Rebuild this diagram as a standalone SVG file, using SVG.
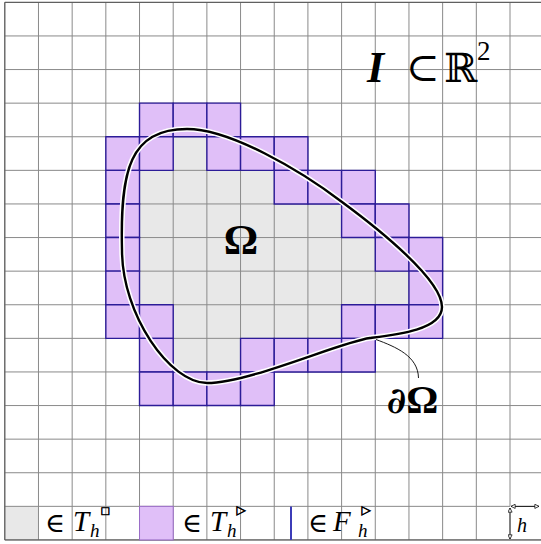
<svg xmlns="http://www.w3.org/2000/svg" width="541" height="544" viewBox="0 0 541 544">
<style>
.grid line{stroke:#8a8a8a;stroke-width:1;vector-effect:non-scaling-stroke}
.in{fill:#e8e8e8}
.bd{fill:#e0bff8;stroke:#2c1c98;stroke-width:1.4;vector-effect:non-scaling-stroke}
.ser{font-family:"Liberation Serif","DejaVu Serif",serif;fill:#000}
.sym{font-family:"DejaVu Serif","DejaVu Sans",serif;fill:#000}
.shp{font-family:"DejaVu Sans",sans-serif;fill:#000;stroke:#000;stroke-width:0.6}
</style>
<defs>
<marker id="ah" viewBox="0 0 6 6" refX="5.5" refY="3" markerWidth="5" markerHeight="5" orient="auto-start-reverse" markerUnits="userSpaceOnUse">
<path d="M0.5,0.5 L5.5,3 L0.5,5.5 Z" fill="#fff" stroke="#000" stroke-width="0.9"/>
</marker>
</defs>
<rect x="0" y="0" width="541" height="544" fill="#fff"/>
<g id="mesh" transform="translate(4.8,2.35) scale(33.68,33.6)">
<g id="interior">
<rect class="in" x="5" y="4" width="1" height="1"/>
<rect class="in" x="4" y="5" width="4" height="1"/>
<rect class="in" x="4" y="6" width="6" height="1"/>
<rect class="in" x="4" y="7" width="7" height="1"/>
<rect class="in" x="4" y="8" width="8" height="1"/>
<rect class="in" x="5" y="9" width="5" height="1"/>
<rect class="in" x="5" y="10" width="2" height="1"/>
<rect class="in" x="0" y="15" width="1" height="1"/>
</g>
<g class="grid">
<line x1="0" y1="0" x2="0" y2="16"/><line x1="1" y1="0" x2="1" y2="16"/><line x1="2" y1="0" x2="2" y2="16"/><line x1="3" y1="0" x2="3" y2="16"/><line x1="4" y1="0" x2="4" y2="16"/><line x1="5" y1="0" x2="5" y2="16"/><line x1="6" y1="0" x2="6" y2="16"/><line x1="7" y1="0" x2="7" y2="16"/><line x1="8" y1="0" x2="8" y2="16"/><line x1="9" y1="0" x2="9" y2="16"/><line x1="10" y1="0" x2="10" y2="16"/><line x1="11" y1="0" x2="11" y2="16"/><line x1="12" y1="0" x2="12" y2="16"/><line x1="13" y1="0" x2="13" y2="16"/><line x1="14" y1="0" x2="14" y2="16"/><line x1="15" y1="0" x2="15" y2="15"/>
<line x1="0" y1="0" x2="16" y2="0"/><line x1="0" y1="1" x2="16" y2="1"/><line x1="0" y1="2" x2="16" y2="2"/><line x1="0" y1="3" x2="16" y2="3"/><line x1="0" y1="4" x2="16" y2="4"/><line x1="0" y1="5" x2="16" y2="5"/><line x1="0" y1="6" x2="16" y2="6"/><line x1="0" y1="7" x2="16" y2="7"/><line x1="0" y1="8" x2="16" y2="8"/><line x1="0" y1="9" x2="16" y2="9"/><line x1="0" y1="10" x2="16" y2="10"/><line x1="0" y1="11" x2="16" y2="11"/><line x1="0" y1="12" x2="16" y2="12"/><line x1="0" y1="13" x2="16" y2="13"/><line x1="0" y1="14" x2="16" y2="14"/><line x1="0" y1="15" x2="15" y2="15"/><line x1="0" y1="16" x2="16" y2="16"/>
<line x1="0" y1="0" x2="0" y2="16" style="stroke:#555"/><line x1="0" y1="0" x2="16" y2="0" style="stroke:#555"/><line x1="0" y1="16" x2="16" y2="16" style="stroke:#555"/>
</g>
<g id="boundary">
<rect class="bd" x="4" y="3" width="1" height="1"/><rect class="bd" x="5" y="3" width="1" height="1"/><rect class="bd" x="6" y="3" width="1" height="1"/>
<rect class="bd" x="3" y="4" width="1" height="1"/><rect class="bd" x="4" y="4" width="1" height="1"/><rect class="bd" x="6" y="4" width="1" height="1"/><rect class="bd" x="7" y="4" width="1" height="1"/><rect class="bd" x="8" y="4" width="1" height="1"/>
<rect class="bd" x="3" y="5" width="1" height="1"/><rect class="bd" x="8" y="5" width="1" height="1"/><rect class="bd" x="9" y="5" width="1" height="1"/><rect class="bd" x="10" y="5" width="1" height="1"/>
<rect class="bd" x="3" y="6" width="1" height="1"/><rect class="bd" x="10" y="6" width="1" height="1"/><rect class="bd" x="11" y="6" width="1" height="1"/>
<rect class="bd" x="3" y="7" width="1" height="1"/><rect class="bd" x="11" y="7" width="1" height="1"/><rect class="bd" x="12" y="7" width="1" height="1"/>
<rect class="bd" x="3" y="8" width="1" height="1"/><rect class="bd" x="12" y="8" width="1" height="1"/>
<rect class="bd" x="3" y="9" width="1" height="1"/><rect class="bd" x="4" y="9" width="1" height="1"/><rect class="bd" x="10" y="9" width="1" height="1"/><rect class="bd" x="11" y="9" width="1" height="1"/><rect class="bd" x="12" y="9" width="1" height="1"/>
<rect class="bd" x="4" y="10" width="1" height="1"/><rect class="bd" x="7" y="10" width="1" height="1"/><rect class="bd" x="8" y="10" width="1" height="1"/><rect class="bd" x="9" y="10" width="1" height="1"/><rect class="bd" x="10" y="10" width="1" height="1"/>
<rect class="bd" x="4" y="11" width="1" height="1"/><rect class="bd" x="5" y="11" width="1" height="1"/><rect class="bd" x="6" y="11" width="1" height="1"/><rect class="bd" x="7" y="11" width="1" height="1"/>
</g>
</g>
<g id="domain-boundary">
<path id="curve-halo" d="M187,129 C230,129 300,170 342,202 C380,230 442,280 442,307 C442,330 395,335 370,338 C340,342 250,383 207,383 C170,383 122,315 122,250 C120,170 130,129 187,129 Z" fill="none" stroke="#fff" stroke-width="5.5"/>
<path d="M187,129 C230,129 300,170 342,202 C380,230 442,280 442,307 C442,330 395,335 370,338 C340,342 250,383 207,383 C170,383 122,315 122,250 C120,170 130,129 187,129 Z" fill="none" stroke="#000" stroke-width="2.4"/>
</g>
<g id="connectors">
<path d="M376,339.5 C396,347 418,356 418.5,378" fill="none" stroke="#000" stroke-width="0.9"/>
</g>
<g id="label-omega">
<text class="ser" x="241" y="253.5" font-size="43" font-weight="bold" text-anchor="middle">Ω</text>
</g>
<g id="label-domega">
<text x="387" y="413" font-size="40" font-weight="bold"><tspan font-family="DejaVu Serif, serif" font-style="italic" font-size="36">∂</tspan><tspan font-family="Liberation Serif, serif">Ω</tspan></text>
</g>
<g id="label-box">
<text class="ser" x="367" y="81.5" font-size="44" font-weight="bold" font-style="italic">I</text>
<text class="sym" x="406" y="81" font-size="40">⊂</text>
<text class="sym" x="444" y="81.5" font-size="40">ℝ</text>
<text class="ser" x="477" y="60" font-size="27">2</text>
</g>
<g id="legend">
<g id="legend-interior">
<text class="sym" x="45" y="531.5" font-size="27">∈</text>
<text class="ser" x="73" y="531" font-size="29" font-style="italic">T</text>
<text class="ser" x="90" y="537" font-size="19" font-style="italic">h</text>
<text class="shp" x="100.5" y="514" font-size="10">□</text>
</g>
<g id="legend-boundary">
<rect x="139.52" y="506.35" width="33.68" height="33.6" fill="#e0bff8" stroke="#9a6cc8" stroke-width="1"/>
<text class="sym" x="182" y="531.5" font-size="27">∈</text>
<text class="ser" x="210" y="531" font-size="29" font-style="italic">T</text>
<text class="ser" x="227" y="537" font-size="19" font-style="italic">h</text>
<text class="shp" x="236.5" y="514" font-size="12">▷</text>
</g>
<g id="legend-faces">
<line x1="291" y1="506.5" x2="291" y2="540" stroke="#3c3cb8" stroke-width="2"/>
<text class="sym" x="308" y="531.5" font-size="27">∈</text>
<text class="ser" x="333" y="531" font-size="29" font-style="italic">F</text>
<text class="ser" x="358" y="537" font-size="19" font-style="italic">h</text>
<text class="shp" x="361.5" y="514" font-size="12">▷</text>
</g>
<g id="legend-h">
<line x1="510" y1="508" x2="510" y2="539" stroke="#000" stroke-width="1" marker-start="url(#ah)" marker-end="url(#ah)"/>
<line x1="511" y1="506.35" x2="539" y2="506.35" stroke="#000" stroke-width="1" marker-start="url(#ah)" marker-end="url(#ah)"/>
<text class="ser" x="517" y="532" font-size="20" font-style="italic">h</text>
</g>
</g>
</svg>
